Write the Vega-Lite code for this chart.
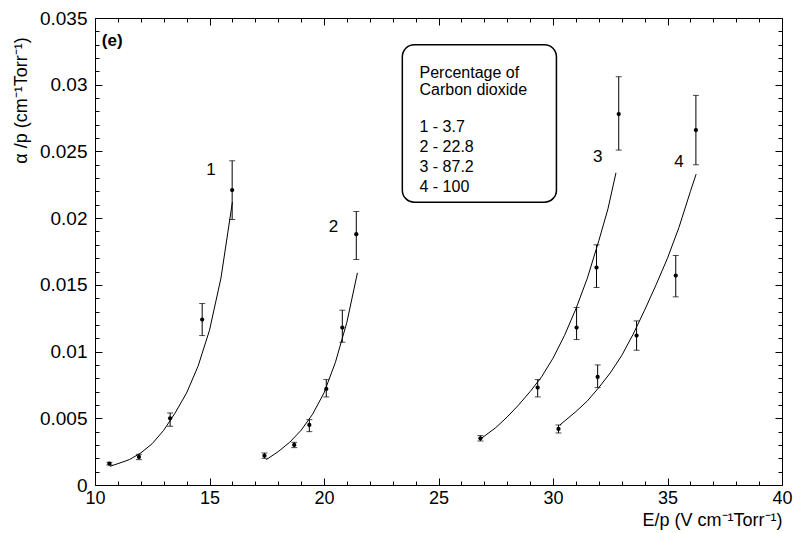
{
  "$schema": "https://vega.github.io/schema/vega-lite/v6.json",
  "width": 687,
  "height": 467,
  "autosize": {"type": "none"},
  "padding": {"left": 95, "top": 18, "right": 18, "bottom": 48},
  "background": "white",
  "config": {
    "view": {"stroke": "black", "strokeWidth": 1},
    "font": "Liberation Sans",
    "axis": {
      "grid": false,
      "domainColor": "black",
      "tickColor": "black",
      "tickWidth": 1,
      "labelColor": "black",
      "titleColor": "black",
      "labelFont": "Liberation Sans",
      "titleFont": "Liberation Sans",
      "titleFontWeight": "normal",
      "labelFontSize": 19,
      "titleFontSize": 18,
      "labelFlush": false
    }
  },
  "datasets": {
    "curves": [
      {"series": "1", "x": 10.65, "y": 0.0014},
      {"series": "1", "x": 11.0, "y": 0.0016},
      {"series": "1", "x": 11.5, "y": 0.0019},
      {"series": "1", "x": 12.0, "y": 0.0024},
      {"series": "1", "x": 12.5, "y": 0.0031},
      {"series": "1", "x": 13.0, "y": 0.0041},
      {"series": "1", "x": 13.5, "y": 0.0054},
      {"series": "1", "x": 14.0, "y": 0.0069},
      {"series": "1", "x": 14.5, "y": 0.0089},
      {"series": "1", "x": 15.0, "y": 0.0116},
      {"series": "1", "x": 15.5, "y": 0.0155},
      {"series": "1", "x": 16.0, "y": 0.0212},
      {"series": "2", "x": 17.48, "y": 0.0019},
      {"series": "2", "x": 18.0, "y": 0.0025},
      {"series": "2", "x": 18.5, "y": 0.0032},
      {"series": "2", "x": 19.0, "y": 0.0041},
      {"series": "2", "x": 19.5, "y": 0.0053},
      {"series": "2", "x": 20.0, "y": 0.0069},
      {"series": "2", "x": 20.5, "y": 0.0092},
      {"series": "2", "x": 21.0, "y": 0.0122},
      {"series": "2", "x": 21.46, "y": 0.0159},
      {"series": "3", "x": 26.8, "y": 0.0034},
      {"series": "3", "x": 27.5, "y": 0.0043},
      {"series": "3", "x": 28.0, "y": 0.0051},
      {"series": "3", "x": 28.5, "y": 0.006},
      {"series": "3", "x": 29.0, "y": 0.007},
      {"series": "3", "x": 29.5, "y": 0.0081},
      {"series": "3", "x": 30.0, "y": 0.0095},
      {"series": "3", "x": 30.5, "y": 0.0112},
      {"series": "3", "x": 31.0, "y": 0.0132},
      {"series": "3", "x": 31.5, "y": 0.0155},
      {"series": "3", "x": 32.0, "y": 0.0183},
      {"series": "3", "x": 32.4, "y": 0.0207},
      {"series": "3", "x": 32.75, "y": 0.0234},
      {"series": "4", "x": 30.3, "y": 0.0045},
      {"series": "4", "x": 31.0, "y": 0.0055},
      {"series": "4", "x": 31.5, "y": 0.0063},
      {"series": "4", "x": 32.0, "y": 0.0073},
      {"series": "4", "x": 32.5, "y": 0.0084},
      {"series": "4", "x": 33.0, "y": 0.0097},
      {"series": "4", "x": 33.5, "y": 0.0113},
      {"series": "4", "x": 34.0, "y": 0.0131},
      {"series": "4", "x": 34.5, "y": 0.015},
      {"series": "4", "x": 35.0, "y": 0.017},
      {"series": "4", "x": 35.5, "y": 0.0193},
      {"series": "4", "x": 36.0, "y": 0.022},
      {"series": "4", "x": 36.25, "y": 0.0233}
    ],
    "points": [
      {"series": "1", "x": 10.63, "y": 0.0016, "lo": 0.0015, "hi": 0.0017},
      {"series": "1", "x": 11.92, "y": 0.0021, "lo": 0.0019, "hi": 0.0023},
      {"series": "1", "x": 13.28, "y": 0.005, "lo": 0.0044, "hi": 0.0054},
      {"series": "1", "x": 14.68, "y": 0.0124, "lo": 0.0112, "hi": 0.0136},
      {"series": "1", "x": 15.99, "y": 0.0221, "lo": 0.0199, "hi": 0.0243},
      {"series": "2", "x": 17.4, "y": 0.0022, "lo": 0.002, "hi": 0.0024},
      {"series": "2", "x": 18.7, "y": 0.003, "lo": 0.0028, "hi": 0.0032},
      {"series": "2", "x": 19.36, "y": 0.0045, "lo": 0.004, "hi": 0.0049},
      {"series": "2", "x": 20.1, "y": 0.0072, "lo": 0.0066, "hi": 0.0079},
      {"series": "2", "x": 20.8, "y": 0.0118, "lo": 0.0107, "hi": 0.0131},
      {"series": "2", "x": 21.41, "y": 0.0188, "lo": 0.0169, "hi": 0.0205},
      {"series": "3", "x": 26.83, "y": 0.0035, "lo": 0.0033, "hi": 0.0037},
      {"series": "3", "x": 29.33, "y": 0.0073, "lo": 0.0066, "hi": 0.0079},
      {"series": "3", "x": 31.03, "y": 0.0118, "lo": 0.0109, "hi": 0.0133},
      {"series": "3", "x": 31.9, "y": 0.0163, "lo": 0.0148, "hi": 0.018},
      {"series": "3", "x": 32.87, "y": 0.0278, "lo": 0.0251, "hi": 0.0306},
      {"series": "4", "x": 30.24, "y": 0.0042, "lo": 0.0039, "hi": 0.0045},
      {"series": "4", "x": 31.95, "y": 0.0081, "lo": 0.0073, "hi": 0.009},
      {"series": "4", "x": 33.65, "y": 0.0112, "lo": 0.0101, "hi": 0.0123},
      {"series": "4", "x": 35.36, "y": 0.0157, "lo": 0.0141, "hi": 0.0172},
      {"series": "4", "x": 36.24, "y": 0.0266, "lo": 0.024, "hi": 0.0292}
    ],
    "curveLabels": [
      {"text": "1", "x": 15.07, "y": 0.0236},
      {"text": "2", "x": 20.41, "y": 0.0193},
      {"text": "3", "x": 31.95, "y": 0.0246},
      {"text": "4", "x": 35.5, "y": 0.0242}
    ],
    "panel": [
      {"text": "(e)", "x": 10.3, "y": 0.0333}
    ],
    "legendBox": [
      {"x": 23.42, "x2": 30.15, "y": 0.033, "y2": 0.0212}
    ],
    "legendText": [
      {"text": "Percentage of", "x": 24.17, "y": 0.0309},
      {"text": "Carbon dioxide", "x": 24.17, "y": 0.0296},
      {"text": "1 - 3.7", "x": 24.17, "y": 0.0268},
      {"text": "2 - 22.8", "x": 24.17, "y": 0.0253},
      {"text": "3 - 87.2", "x": 24.17, "y": 0.0238},
      {"text": "4 - 100", "x": 24.17, "y": 0.0223}
    ]
  },
  "layer": [
    {
      "data": {"name": "curves"},
      "mark": {"type": "line", "color": "black", "strokeWidth": 1},
      "encoding": {
        "x": {
          "field": "x", "type": "quantitative",
          "scale": {"domain": [10, 40], "nice": false, "zero": false},
          "axis": {
            "orient": "bottom",
            "values": [10, 15, 20, 25, 30, 35, 40],
            "tickSize": -7,
            "labelPadding": 11,
            "labelFontSize": 18,
            "format": "~g",
            "title": "E/p  (V cm⁻¹Torr⁻¹)",
            "titleAnchor": "end",
            "titlePadding": 4
          }
        },
        "y": {
          "field": "y", "type": "quantitative",
          "scale": {"domain": [0, 0.035], "nice": false, "zero": false},
          "axis": {
            "orient": "left",
            "values": [0, 0.005, 0.01, 0.015, 0.02, 0.025, 0.03, 0.035],
            "tickSize": -7,
            "labelPadding": 15,
            "format": "~g",
            "title": "α /p (cm⁻¹Torr⁻¹)",
            "titleY": 82,
            "titlePadding": 9
          }
        },
        "detail": {"field": "series"}
      }
    },
    {
      "data": {"name": "points"},
      "mark": {"type": "rule", "color": "black", "strokeWidth": 1},
      "encoding": {
        "x": {
          "field": "x", "type": "quantitative",
          "axis": {
            "orient": "bottom",
            "values": [11, 12, 13, 14, 16, 17, 18, 19, 21, 22, 23, 24, 26, 27, 28, 29, 31, 32, 33, 34, 36, 37, 38, 39],
            "tickSize": -4, "labels": false, "domain": false, "title": null
          }
        },
        "y": {
          "field": "lo", "type": "quantitative",
          "axis": {
            "orient": "left",
            "values": [0.001, 0.002, 0.003, 0.004, 0.006, 0.007, 0.008, 0.009, 0.011, 0.012, 0.013, 0.014, 0.016, 0.017, 0.018, 0.019, 0.021, 0.022, 0.023, 0.024, 0.026, 0.027, 0.028, 0.029, 0.031, 0.032, 0.033, 0.034],
            "tickSize": -4, "labels": false, "domain": false, "title": null
          }
        },
        "y2": {"field": "hi"}
      }
    },
    {
      "data": {"name": "points"},
      "mark": {"type": "tick", "orient": "horizontal", "color": "black", "size": 6, "thickness": 1},
      "encoding": {
        "x": {
          "field": "x", "type": "quantitative",
          "axis": {
            "orient": "top",
            "values": [10, 15, 20, 25, 30, 35, 40],
            "tickSize": -7, "labels": false, "domain": false, "title": null
          }
        },
        "y": {
          "field": "hi", "type": "quantitative",
          "axis": {
            "orient": "right",
            "values": [0, 0.005, 0.01, 0.015, 0.02, 0.025, 0.03, 0.035],
            "tickSize": -7, "labels": false, "domain": false, "title": null
          }
        }
      }
    },
    {
      "data": {"name": "points"},
      "mark": {"type": "tick", "orient": "horizontal", "color": "black", "size": 6, "thickness": 1},
      "encoding": {
        "x": {
          "field": "x", "type": "quantitative",
          "axis": {
            "orient": "top",
            "values": [11, 12, 13, 14, 16, 17, 18, 19, 21, 22, 23, 24, 26, 27, 28, 29, 31, 32, 33, 34, 36, 37, 38, 39],
            "tickSize": -4, "labels": false, "domain": false, "title": null
          }
        },
        "y": {
          "field": "lo", "type": "quantitative",
          "axis": {
            "orient": "right",
            "values": [0.001, 0.002, 0.003, 0.004, 0.006, 0.007, 0.008, 0.009, 0.011, 0.012, 0.013, 0.014, 0.016, 0.017, 0.018, 0.019, 0.021, 0.022, 0.023, 0.024, 0.026, 0.027, 0.028, 0.029, 0.031, 0.032, 0.033, 0.034],
            "tickSize": -4, "labels": false, "domain": false, "title": null
          }
        }
      }
    },
    {
      "data": {"name": "points"},
      "mark": {"type": "circle", "color": "black", "size": 18, "opacity": 1},
      "encoding": {
        "x": {"field": "x", "type": "quantitative", "axis": null},
        "y": {"field": "y", "type": "quantitative", "axis": null}
      }
    },
    {
      "data": {"name": "curveLabels"},
      "mark": {"type": "text", "color": "black", "fontSize": 17, "align": "center", "baseline": "middle"},
      "encoding": {
        "x": {"field": "x", "type": "quantitative", "axis": null},
        "y": {"field": "y", "type": "quantitative", "axis": null},
        "text": {"field": "text"}
      }
    },
    {
      "data": {"name": "panel"},
      "mark": {"type": "text", "color": "black", "fontSize": 17, "fontWeight": "bold", "align": "left", "baseline": "middle"},
      "encoding": {
        "x": {"field": "x", "type": "quantitative", "axis": null},
        "y": {"field": "y", "type": "quantitative", "axis": null},
        "text": {"field": "text"}
      }
    },
    {
      "data": {"name": "legendBox"},
      "mark": {"type": "rect", "fill": "white", "stroke": "black", "strokeWidth": 1.5, "cornerRadius": 12},
      "encoding": {
        "x": {"field": "x", "type": "quantitative", "axis": null},
        "x2": {"field": "x2"},
        "y": {"field": "y", "type": "quantitative", "axis": null},
        "y2": {"field": "y2"}
      }
    },
    {
      "data": {"name": "legendText"},
      "mark": {"type": "text", "color": "black", "fontSize": 16, "align": "left", "baseline": "middle"},
      "encoding": {
        "x": {"field": "x", "type": "quantitative", "axis": null},
        "y": {"field": "y", "type": "quantitative", "axis": null},
        "text": {"field": "text"}
      }
    }
  ],
  "resolve": {"axis": {"x": "independent", "y": "independent"}}
}
